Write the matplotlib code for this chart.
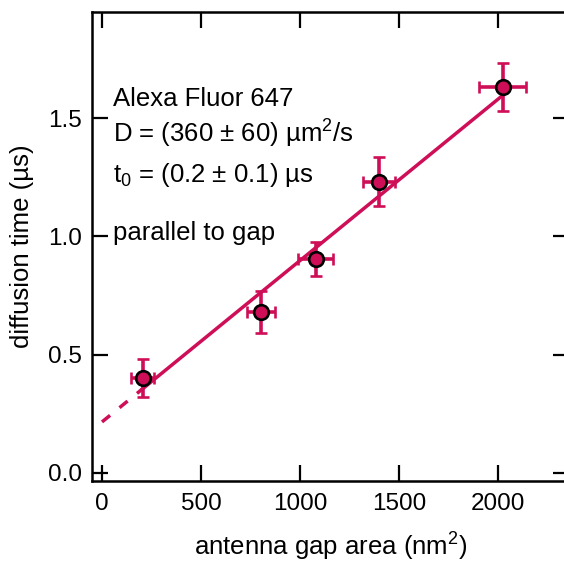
import numpy as np
import matplotlib
matplotlib.use("Agg")
import matplotlib.pyplot as plt

plt.rcParams["font.family"] = ["Liberation Sans", "DejaVu Sans"]
plt.rcParams["mathtext.fontset"] = "custom"
plt.rcParams["mathtext.rm"] = "Liberation Sans"
plt.rcParams["mathtext.it"] = "Liberation Sans:italic"

# data
gap_area = [205, 803, 1079, 1400, 2023]          # nm^2
gap_area_err = [60, 70, 88, 80, 118]
diff_time = [0.40, 0.68, 0.905, 1.232, 1.632]    # us
diff_time_err = [0.08, 0.09, 0.073, 0.103, 0.102]

# linear fit t = t0 + slope * A
t0 = 0.215
slope = 0.000683
fit_dash_x = [0, 205]
fit_solid_x = [205, 2023]

col = "#CF0E58"

fig = plt.figure(figsize=(5.64, 5.66), dpi=100)
# right spine sits just outside the canvas, as in the reference
ax = fig.add_axes([92 / 564, 1 - 481 / 566, 477 / 564, 469 / 566])

xd = np.array(fit_dash_x)
xs = np.array(fit_solid_x)
ax.plot(xd, t0 + slope * xd, color=col, lw=2.5, ls=(0, (3, 3.5)), zorder=2)
ax.plot(xs, t0 + slope * xs, color=col, lw=2.5, zorder=2)

ax.errorbar(gap_area, diff_time, xerr=gap_area_err, yerr=diff_time_err,
            fmt="o", color=col, ecolor=col, elinewidth=2.6, capsize=4,
            capthick=2.6, markersize=10.5, markerfacecolor=col,
            markeredgecolor="black", markeredgewidth=1.9, zorder=3)

ax.set_xlim(-50.5, -50.5 + 477 / 0.198)
ax.set_ylim(-0.035, 1.95)
ax.set_xticks([0, 500, 1000, 1500, 2000])
ax.set_yticks([0.0, 0.5, 1.0, 1.5])
ax.set_yticklabels(["0.0", "0.5", "1.0", "1.5"])

ax.tick_params(direction="in", length=11.5, width=1.6, labelsize=17.5,
               top=True, right=True, colors="black")
ax.tick_params(axis="y", pad=7)
ax.tick_params(axis="x", pad=9)
for s in ax.spines.values():
    s.set_linewidth(1.8)

ax.set_xlabel("antenna gap area (nm$^2$)", fontsize=18.5, labelpad=11)
ax.set_ylabel("diffusion time (µs)", fontsize=18.5, labelpad=10)

# annotations
tx = 113 / 564
fig.text(tx, 1 - 106 / 566, "Alexa Fluor 647", fontsize=18.5, va="baseline")
fig.text(tx, 1 - 143 / 566, "D = (360 ± 60) µm$^2$/s", fontsize=18.5, va="baseline")
fig.text(tx, 1 - 182 / 566, "t$_0$ = (0.2 ± 0.1) µs", fontsize=18.5, va="baseline")
fig.text(tx, 1 - 240 / 566, "parallel to gap", fontsize=18.5, va="baseline")

plt.savefig("out.png", dpi=100)
